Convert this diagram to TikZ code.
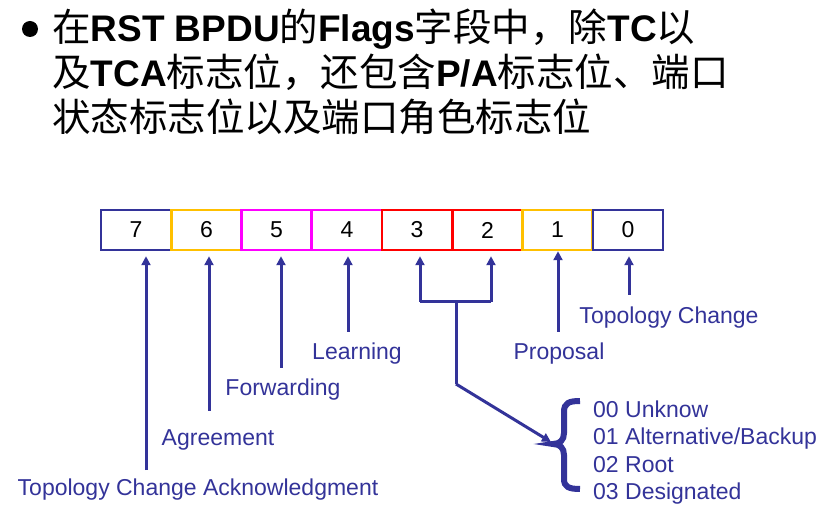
\documentclass[tikz,border=0pt]{standalone}
\usepackage{fontspec}
\setmainfont{Liberation Sans}
\newfontfamily\cjk{Noto Sans CJK SC}
\usetikzlibrary{arrows.meta}
\definecolor{navy}{HTML}{333399}
\definecolor{gold}{HTML}{FFC000}
\definecolor{mag}{HTML}{FF00FF}
\newcommand\zh[1]{{\cjk #1}}
\newcommand\en[1]{{\fontsize{37}{42}\selectfont\bfseries #1}}
\begin{document}
\begin{tikzpicture}[x=1pt,y=-1pt,
  bitbox/.style={draw,line width=2.5pt,minimum width=70.25pt,minimum height=40pt,inner sep=0pt,font=\fontsize{23}{25}\selectfont,text=black},
  lbl/.style={text=navy,inner sep=0pt,anchor=base,font=\fontsize{23}{25}\selectfont},
  arr/.style={draw=navy,line width=3pt,-{Triangle[length=9pt,width=9pt]}},
  ln/.style={draw=navy,line width=3pt},
  title/.style={anchor=base west,inner sep=0pt,text=black,font=\fontsize{38.5}{44}\selectfont}]
\useasboundingbox (0,0) rectangle (820,521);
% title
\fill[black] (30,29) circle (8);
\node[title] (t1) at (52,42) {\zh{在}\en{RST BPDU}\zh{的}\en{Flags}\zh{字段中，除}\en{TC}\zh{以}};
\node[title] (t2) at (52,87) {\zh{及}\en{TCA}\zh{标志位，还包含}\en{P/A}\zh{标志位、端口}};
\node[title] (t3) at (52,132) {\zh{状态标志位以及端口角色标志位}};
% bit boxes
\node[bitbox,draw=navy] (b7) at (136.1,230) {7};
\node[bitbox,draw=gold] (b6) at (206.4,230) {6};
\node[bitbox,draw=mag] (b5) at (276.6,230) {5};
\node[bitbox,draw=mag] (b4) at (346.9,230) {4};
\node[bitbox,draw=red] (b3) at (417.1,230) {3};
\node[bitbox,draw=red] (b2) at (487.4,230) {2};
\node[bitbox,draw=gold] (b1) at (557.6,230) {1};
\node[bitbox,draw=navy] (b0) at (627.9,230) {0};
% labels
\node[lbl] (l0) at (669,324) {Topology Change};
\node[lbl] (l1) at (559,360) {Proposal};
\node[lbl] (l4) at (357,360) {Learning};
\node[lbl] (l5) at (283,396) {Forwarding};
\node[lbl] (l6) at (218,446) {Agreement};
\node[lbl] (l7) at (198,496) {Topology Change Acknowledgment};
% free ends
\coordinate (e7) at (146,470);
\coordinate (e6) at (209,411);
\coordinate (e5) at (281,368);
\coordinate (e4) at (348,332);
\coordinate (e3) at (420,302);
\coordinate (e2) at (491,302);
\coordinate (e1) at (558,332);
\coordinate (e0) at (629,295);
\coordinate (em) at (456,302);
\coordinate (ek) at (456,384);
\coordinate (et) at (551,442);
\foreach \i in {7,6,5,4,3,2,0}{
  \draw[arr,shorten >=5pt] (e\i) -- (e\i |- b\i.south);
}
\draw[arr] (e1) -- (e1 |- b1.south);
\draw[ln,line cap=butt] (e3) -- (e2);
\draw[ln] (em) -- (ek);
\draw[arr] (ek) -- (et);
% brace
\draw[navy,line width=6pt] (580,401) .. controls (569,401) and (564,403) .. (564,412) -- (564,433)
  .. controls (564,440) and (560,444) .. (553,444)
  .. controls (560,444) and (564,448) .. (564,455) -- (564,479)
  .. controls (564,487) and (569,489) .. (580,489);
\node[lbl,anchor=base west] (r0) at (593,418) {00 Unknow};
\node[lbl,anchor=base west] (r1) at (593,445) {01 Alternative/Backup};
\node[lbl,anchor=base west] (r2) at (593,472) {02 Root};
\node[lbl,anchor=base west] (r3) at (593,499) {03 Designated};
\end{tikzpicture}
\end{document}
